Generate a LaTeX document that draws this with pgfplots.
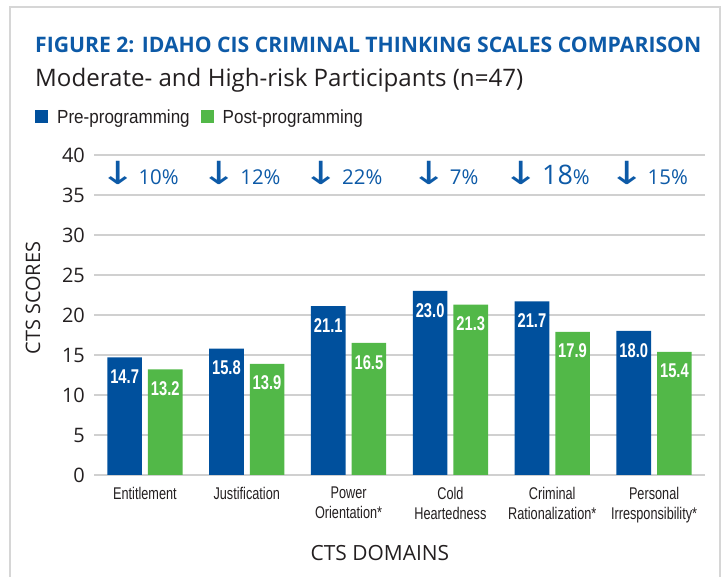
\documentclass[border=0pt]{standalone}
\usepackage{fontspec}
\usepackage{pgfplots}
\pgfplotsset{compat=1.18}
\setmainfont{Open Sans}
\newfontfamily\condfont[FakeStretch=0.75]{Liberation Sans}
\newfontfamily\barfont[FakeStretch=0.74]{Liberation Sans}
\newfontfamily\legfont[FakeStretch=0.9]{Liberation Sans}
\newfontfamily\arrowfont{DejaVu Sans}
\definecolor{preblue}{HTML}{00509D}
\definecolor{postgreen}{HTML}{52B848}
\definecolor{titleblue}{HTML}{0D5AA7}
\definecolor{txt}{HTML}{231F20}
\definecolor{gridgray}{HTML}{D0D0D0}
\definecolor{framegray}{HTML}{D6D6D6}
\newcommand{\arr}{\scalebox{1.4}[1]{\arrowfont\fontsize{32}{32}\selectfont ↓}\hspace{2bp}}
\begin{document}
\begin{tikzpicture}[x=1bp,y=1bp]
\path[use as bounding box] (0,0) rectangle (723,577);
\draw[framegray, line width=1.5bp] (10,-10) -- (10,570) -- (720,570) -- (720,-10);
\node[anchor=base west, inner sep=0pt, text=titleblue] at (35,524)
  {\resizebox{666bp}{15.5bp}{\bfseries FIGURE 2: IDAHO CIS CRIMINAL THINKING SCALES COMPARISON}};
\node[anchor=base west, inner sep=0pt, text=txt] at (35,490)
  {\resizebox{488bp}{!}{\fontsize{21}{24}\selectfont Moderate- and High-risk Participants (n=47)}};
\begin{axis}[
  at={(94bp,102bp)}, anchor=south west, scale only axis,
  width=611bp, height=320bp,
  xmin=-0.5, xmax=5.5, ymin=0, ymax=40,
  ybar=6bp, bar width=0.34,
  ytick={0,5,...,40}, xtick={0,...,5},
  xticklabels={Entitlement, Justification, {Power\\Orientation*}, {Cold\\Heartedness}, {Criminal\\Rationalization*}, {Personal\\Irresponsibility*}},
  axis line style={draw=none},
  major tick length=0pt,
  ymajorgrids, grid style={gridgray, line width=1.3bp},
  /pgf/number format/assume math mode=true,
  yticklabel style={anchor=east, inner sep=0pt, xshift=-9bp, font=\fontsize{20}{20}\selectfont, text=txt},
  xticklabel style={anchor=north, inner sep=0pt, yshift=-12bp, align=center, font=\condfont\fontsize{17}{20}\selectfont, text=txt},
  xlabel={CTS DOMAINS},
  xlabel style={at={(axis description cs:0.468,-0.266)}, anchor=base, inner sep=0pt, font=\fontsize{21}{21}\selectfont, text=txt},
  ylabel={CTS SCORES},
  ylabel style={at={(axis description cs:-0.0998,0.553)}, anchor=center, inner sep=0pt, font=\fontsize{20}{20}\selectfont, text=txt},
  legend columns=2,
  legend style={at={(axis description cs:-0.0966,1.119)}, anchor=west, draw=none, fill=none, inner sep=0pt,
    font=\legfont\fontsize{19}{20}\selectfont, text=txt,
    /tikz/every odd column/.append style={column sep=9bp},
    /tikz/every even column/.append style={column sep=11bp},
    nodes={inner sep=0pt, anchor=west}},
  legend image code/.code={\fill[#1, draw=none] (0bp,-6.5bp) rectangle (13bp,6.5bp);},
  nodes near coords={\pgfmathprintnumber[fixed,fixed zerofill,precision=1]{\pgfplotspointmeta}},
  nodes near coords align={below},
  every node near coord/.append style={inner sep=0pt, yshift=-12bp, text=white, font=\barfont\bfseries\fontsize{20}{20}\selectfont},
]
\addplot[fill=preblue, draw=none]
  coordinates {(0,14.7) (1,15.8) (2,21.1) (3,23.0) (4,21.7) (5,18.0)};
\addlegendentry{Pre-programming}
\addplot[fill=postgreen, draw=none]
  coordinates {(0,13.2) (1,13.9) (2,16.5) (3,21.3) (4,17.9) (5,15.4)};
\addlegendentry{Post-programming}
\node[anchor=base, inner sep=0pt, xshift=-6bp, text=titleblue] at (axis cs:0,36.25) {\arr{\fontsize{20.5}{20}\selectfont 10\%}};
\node[anchor=base, inner sep=0pt, xshift=-6bp, text=titleblue] at (axis cs:1,36.25) {\arr{\fontsize{20.5}{20}\selectfont 12\%}};
\node[anchor=base, inner sep=0pt, xshift=-6bp, text=titleblue] at (axis cs:2,36.25) {\arr{\fontsize{20.5}{20}\selectfont 22\%}};
\node[anchor=base, inner sep=0pt, xshift=-6bp, text=titleblue] at (axis cs:3,36.25) {\arr{\fontsize{20.5}{20}\selectfont 7\%}};
\node[anchor=base, inner sep=0pt, xshift=-6bp, text=titleblue] at (axis cs:4,36.25) {\arr{\fontsize{27}{27}\selectfont 18}{\fontsize{20.5}{20}\selectfont\%}};
\node[anchor=base, inner sep=0pt, xshift=-6bp, text=titleblue] at (axis cs:5,36.25) {\arr{\fontsize{20.5}{20}\selectfont 15\%}};
\end{axis}
\end{tikzpicture}
\end{document}
